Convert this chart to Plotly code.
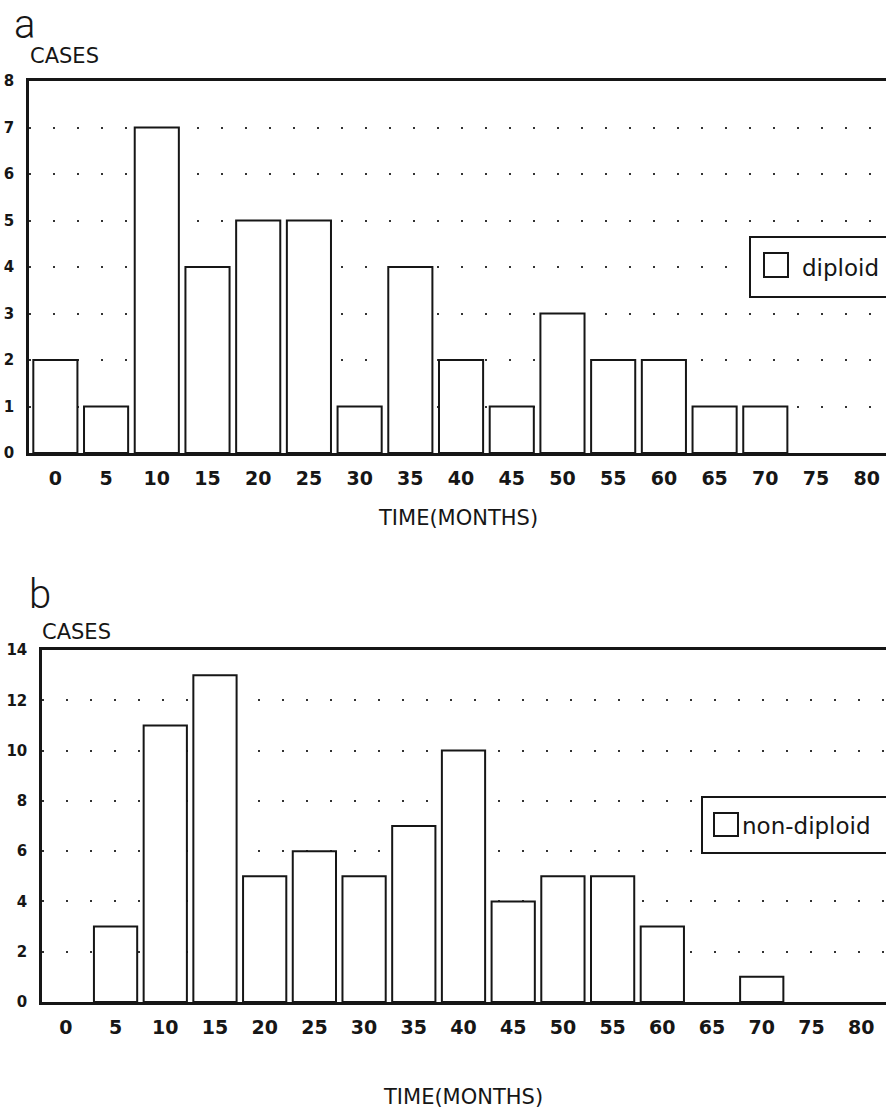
import plotly.graph_objects as go

# ---- data ----
months = [0, 5, 10, 15, 20, 25, 30, 35, 40, 45, 50, 55, 60, 65, 70, 75, 80]
diploid_cases = [2, 1, 7, 4, 5, 5, 1, 4, 2, 1, 3, 2, 2, 1, 1, 0, 0]
nondiploid_cases = [0, 3, 11, 13, 5, 6, 5, 7, 10, 4, 5, 5, 3, 0, 1, 0, 0]
y_ticks_a = [0, 1, 2, 3, 4, 5, 6, 7, 8]
y_ticks_b = [0, 2, 4, 6, 8, 10, 12, 14]

W, H = 886, 1108
INK = "#161616"
FONT = "DejaVu Sans, Verdana, sans-serif"
LETTER_FONT = "Roboto, Liberation Sans, Arial, sans-serif"


def fx(p):
    return p / W


def fy(p):
    return 1 - p / H


def bar_style(values):
    # no outline for empty bins so the x axis line stays clean
    return dict(color="white", line=dict(color=INK, width=[2 if v > 0 else 0 for v in values]))


fig = go.Figure()
fig.add_trace(go.Bar(x=months, y=diploid_cases, name="diploid", marker=bar_style(diploid_cases),
                     xaxis="x", yaxis="y", showlegend=False))
fig.add_trace(go.Bar(x=months, y=nondiploid_cases, name="non-diploid",
                     marker=bar_style(nondiploid_cases),
                     xaxis="x2", yaxis="y2", showlegend=False))

xcommon = dict(tickmode="array", tickvals=months, showline=True, linewidth=2.5, linecolor=INK,
               mirror=True, showgrid=False, zeroline=False, ticks="", automargin=False,
               tickfont=dict(family=FONT, size=19, color=INK, weight="bold"),
               ticklabelstandoff=6)
ycommon = dict(showline=True, linewidth=2.5, linecolor=INK, mirror=False, zeroline=False,
               showgrid=True, gridcolor="#333333", gridwidth=2, griddash="2px,22px",
               ticks="", automargin=False, ticklabelstandoff=9,
               tickfont=dict(family=FONT, size=15, color=INK, weight="bold"))

fig.update_layout(
    width=W, height=H,
    margin=dict(l=0, r=0, t=0, b=0, autoexpand=False),
    paper_bgcolor="white", plot_bgcolor="white",
    bargap=0.13,
    showlegend=False,
    xaxis=dict(domain=[fx(29), 1], range=[-2.6, 81.9], anchor="y", **xcommon),
    yaxis=dict(domain=[fy(453), fy(81)], range=[0, 8], tickmode="array", tickvals=y_ticks_a,
               anchor="x", **ycommon),
    xaxis2=dict(domain=[fx(42), 1], range=[-2.4, 82.5], anchor="y2", **xcommon),
    yaxis2=dict(domain=[fy(1002), fy(650)], range=[0, 14], tickmode="array", tickvals=y_ticks_b,
                anchor="x2", **ycommon),
)

ann = []
def text(x, y, s, size, weight="normal", xanchor="left", family=FONT):
    ann.append(dict(x=fx(x), y=fy(y), xref="paper", yref="paper", text=s, showarrow=False,
                    xanchor=xanchor, yanchor="middle",
                    font=dict(family=family, size=size, color=INK, weight=weight)))

# panel letters and y titles
text(12, 25, "a", 40, weight=300, family=LETTER_FONT)
text(28, 56, "CASES", 21)
text(27, 594, "b", 40, weight=300, family=LETTER_FONT)
text(40, 632, "CASES", 21)
# x titles
text(458, 518, "TIME(MONTHS)", 21, xanchor="center")
text(463, 1097, "TIME(MONTHS)", 21, xanchor="center")
# legend labels
text(800, 268, "diploid", 23)
text(740, 826, "non-diploid", 23)
fig.update_layout(annotations=ann)

shapes = []
def rect(x0, y0, x1, y1, width=2):
    shapes.append(dict(type="rect", xref="paper", yref="paper", x0=fx(x0), x1=fx(x1),
                       y0=fy(y1), y1=fy(y0), line=dict(color=INK, width=width),
                       fillcolor="white", layer="above"))

rect(750, 237, 960, 297)
rect(764, 253, 788, 277)
rect(702, 797, 960, 853)
rect(714, 813, 738, 836)
fig.update_layout(shapes=shapes)

fig.write_html("out.html")
